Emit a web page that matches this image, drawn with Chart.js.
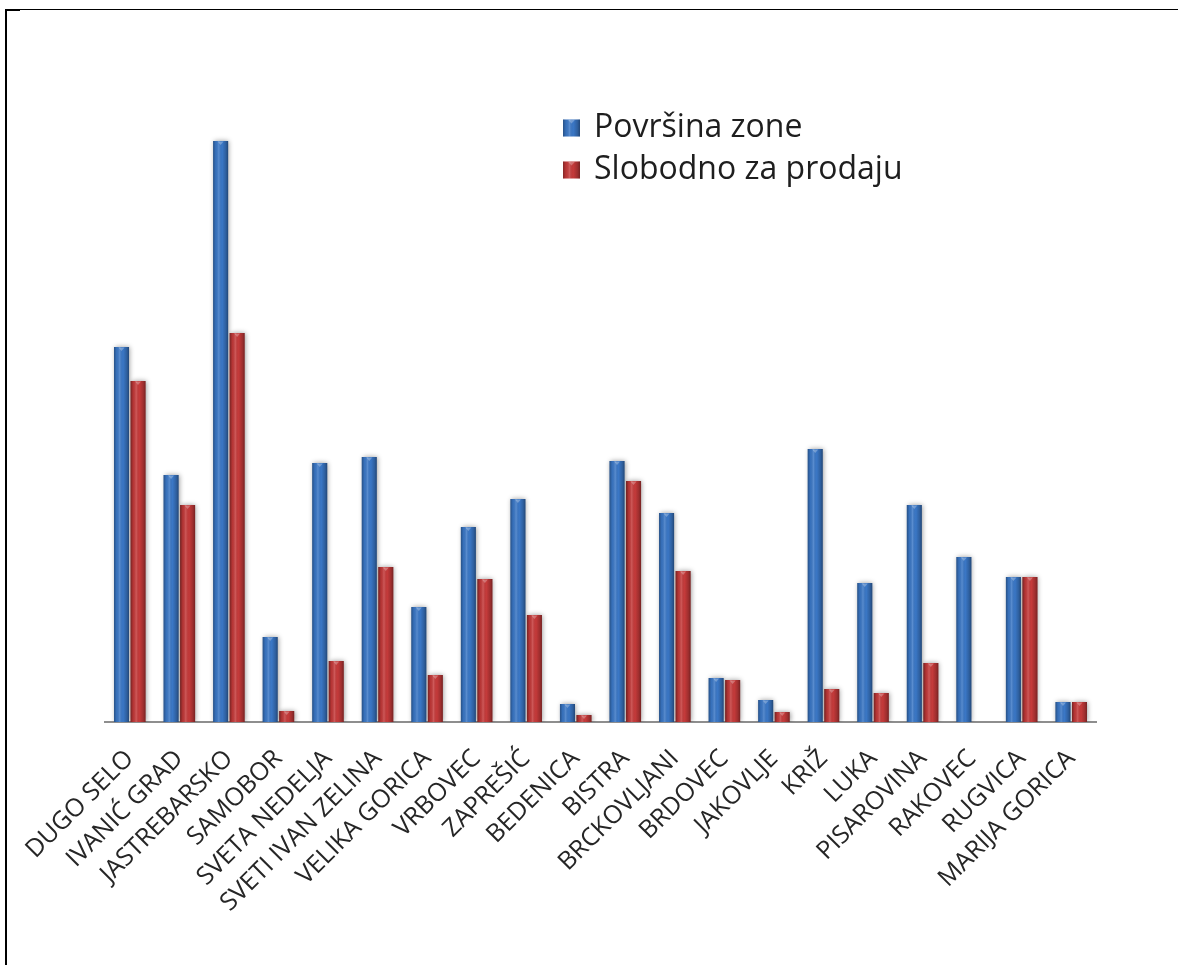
<!DOCTYPE html>
<html>
<head>
<meta charset="utf-8">
<script src="https://cdn.jsdelivr.net/npm/chart.js@4"></script>
<style>
  html, body { margin: 0; padding: 0; background: #ffffff; }
  #wrap { position: relative; width: 1178px; height: 965px; overflow: hidden; }
  #frame { position: absolute; left: 5px; top: 9px; right: 0; bottom: -5px;
           border-top: 1px solid #000; border-left: 2px solid #000; pointer-events: none; }
  #corner { position: absolute; left: 5px; top: 9px; width: 15px; height: 2px; background: #000; }
  canvas { position: absolute; left: 0; top: 0; }
</style>
</head>
<body>
<div id="wrap">
  <canvas id="c" width="1178" height="965"></canvas>
  <div id="frame"></div>
  <div id="corner"></div>
</div>
<script>
const categories = ['DUGO SELO', 'IVANIĆ GRAD', 'JASTREBARSKO', 'SAMOBOR', 'SVETA NEDELJA',
  'SVETI IVAN ZELINA', 'VELIKA GORICA', 'VRBOVEC', 'ZAPREŠIĆ', 'BEDENICA', 'BISTRA',
  'BRCKOVLJANI', 'BRDOVEC', 'JAKOVLJE', 'KRIŽ', 'LUKA', 'PISAROVINA', 'RAKOVEC',
  'RUGVICA', 'MARIJA GORICA'];
const povrsinaZone = [375, 247, 581, 85, 259, 265, 115, 195, 223, 18, 261, 209, 44, 22, 273, 139, 217, 165, 145, 20];
const slobodnoZaProdaju = [341, 217, 389, 11, 61, 155, 47, 143, 107, 7, 241, 151, 42, 10, 33, 29, 59, 0, 145, 20];
const seriesNames = ['Površina zone', 'Slobodno za prodaju'];

const BLUE = '#3a77c6';
const RED = '#c53a3a';

function shadeBar(ctx, x, y, w, h) {
  if (h <= 0.5) return;
  const g = ctx.createLinearGradient(x, 0, x + w, 0);
  g.addColorStop(0, 'rgba(0,0,0,0.32)');
  g.addColorStop(0.18, 'rgba(0,0,0,0.05)');
  g.addColorStop(0.38, 'rgba(255,255,255,0.16)');
  g.addColorStop(0.6, 'rgba(0,0,0,0.0)');
  g.addColorStop(0.85, 'rgba(0,0,0,0.2)');
  g.addColorStop(1, 'rgba(0,0,0,0.4)');
  ctx.fillStyle = g;
  ctx.fillRect(x, y, w, h);
  const capH = Math.min(4, h);
  ctx.fillStyle = 'rgba(255,255,255,0.28)';
  ctx.beginPath();
  ctx.moveTo(x + w * 0.3, y + 0.5);
  ctx.lineTo(x + w * 0.7, y + 0.5);
  ctx.lineTo(x + w * 0.5, y + capH);
  ctx.closePath();
  ctx.fill();
}

const barShading = {
  id: 'barShading',
  beforeDatasetsDraw(chart) {
    const ctx = chart.ctx;
    ctx.save();
    ctx.shadowColor = 'rgba(0,0,0,0.4)';
    ctx.shadowBlur = 5;
    ctx.shadowOffsetX = 1;
    ctx.shadowOffsetY = 0;
  },
  afterDatasetsDraw(chart) {
    const ctx = chart.ctx;
    ctx.restore();
    ctx.save();
    chart.data.datasets.forEach((ds, di) => {
      const meta = chart.getDatasetMeta(di);
      meta.data.forEach(bar => {
        const p = bar.getProps(['x', 'y', 'base', 'width'], true);
        const top = Math.min(p.y, p.base);
        const h = Math.abs(p.base - p.y);
        shadeBar(ctx, p.x - p.width / 2, top, p.width, h);
      });
    });
    ctx.restore();
  }
};

const customLegend = {
  id: 'customLegend',
  afterDraw(chart) {
    const ctx = chart.ctx;
    ctx.save();
    const x0 = 563, size = 17;
    const rows = [128, 170];
    chart.data.datasets.forEach((ds, i) => {
      const cy = rows[i];
      ctx.fillStyle = ds.backgroundColor;
      ctx.fillRect(x0, cy - size / 2, size, size);
      shadeBar(ctx, x0, cy - size / 2, size, size);
      ctx.fillStyle = '#1e1e1e';
      ctx.font = '32px "Open Sans"';
      ctx.textBaseline = 'middle';
      ctx.textAlign = 'left';
      ctx.fillText(ds.label, x0 + size + 14, cy);
    });
    ctx.restore();
  }
};

new Chart(document.getElementById('c'), {
  type: 'bar',
  data: {
    labels: categories,
    datasets: [
      { label: seriesNames[0], data: povrsinaZone, backgroundColor: BLUE },
      { label: seriesNames[1], data: slobodnoZaProdaju, backgroundColor: RED }
    ]
  },
  options: {
    responsive: false,
    animation: false,
    devicePixelRatio: 1,
    categoryPercentage: 0.667,
    barPercentage: 0.91,
    layout: { padding: { left: 105, right: 82, top: 122, bottom: 0 } },
    plugins: { legend: { display: false }, tooltip: { enabled: false } },
    scales: {
      x: {
        grid: { display: false, drawTicks: false },
        border: { display: true, color: '#8e8e8e', width: 2 },
        ticks: {
          autoSkip: false, minRotation: 45, maxRotation: 45, padding: 22,
          color: '#262626', font: { family: '"Open Sans"', size: 25 }
        },
        afterFit(scale) { scale.height = 243; }
      },
      y: { display: false, min: 0, max: 600 }
    }
  },
  plugins: [barShading, customLegend]
});
</script>
</body>
</html>
